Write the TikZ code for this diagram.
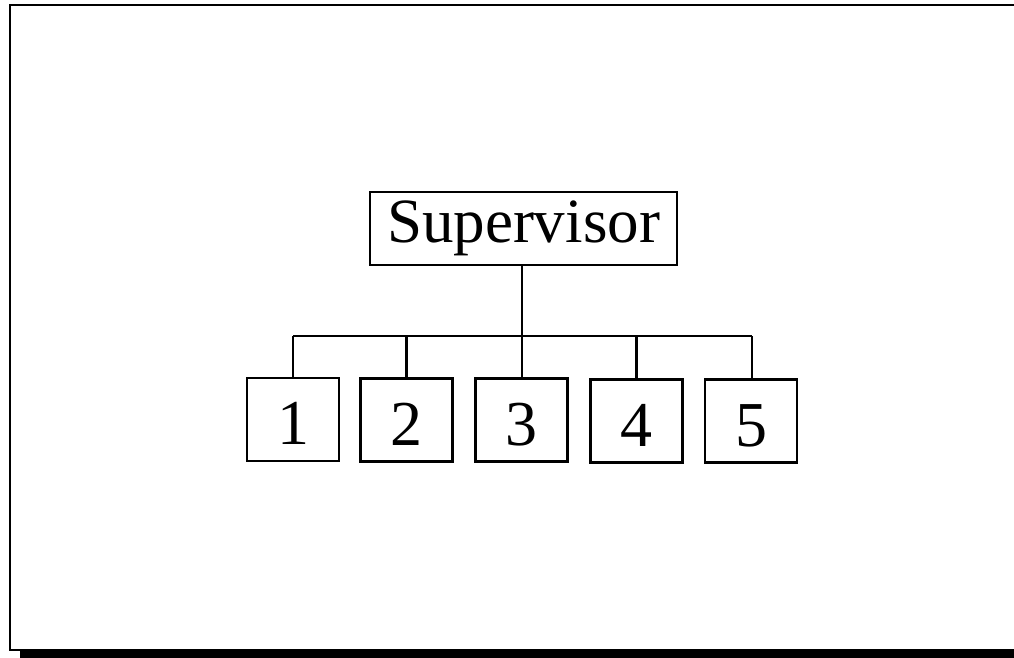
\documentclass[tikz,border=0pt]{standalone}
\usepackage{fontspec}
\setmainfont{Liberation Serif}
\begin{document}
\begin{tikzpicture}[x=1pt,y=-1pt,
  box/.style={draw=black,line width=2.2pt,inner sep=0pt,minimum width=92pt,minimum height=83pt,text height=50pt,text depth=0pt,font=\fontsize{64}{70}\selectfont},
  supbox/.style={draw=black,line width=2.2pt,inner sep=0pt,minimum width=307pt,minimum height=73pt,text height=45pt,text depth=18pt,font=\fontsize{63}{70}\selectfont},
  conn/.style={line width=2.6pt}]
\useasboundingbox (0,0) rectangle (1014,657);
% frame
\draw[line width=2pt] (1020,5) -- (10,5) -- (10,650) -- (1020,650);
\fill[black] (20,651) rectangle (1020,660);
% nodes
\node[supbox] (sup) at (523.5,228.5) {Supervisor};
\node[box] (b1) at (293,419.5) {1};
\node[box] (b2) at (406.5,420) {2};
\node[box] (b3) at (521.5,420) {3};
\node[box] (b4) at (636.5,421) {4};
\node[box] (b5) at (751,421) {5};
% bus
\coordinate (bus1) at (293,336);
\coordinate (bus2) at (406.5,336);
\coordinate (bus3) at (522,336);
\coordinate (bus4) at (636.5,336);
\coordinate (bus5) at (752,336);
\draw[conn] (sup.south -| bus3) -- (bus3);
\draw[conn] (bus1) -- (bus5);
\draw[conn] (bus1) -- (bus1 |- b1.north);
\draw[conn] (bus2) -- (bus2 |- b2.north);
\draw[conn] (bus3) -- (bus3 |- b3.north);
\draw[conn] (bus4) -- (bus4 |- b4.north);
\draw[conn] (bus5) -- (bus5 |- b5.north);
\end{tikzpicture}
\end{document}
